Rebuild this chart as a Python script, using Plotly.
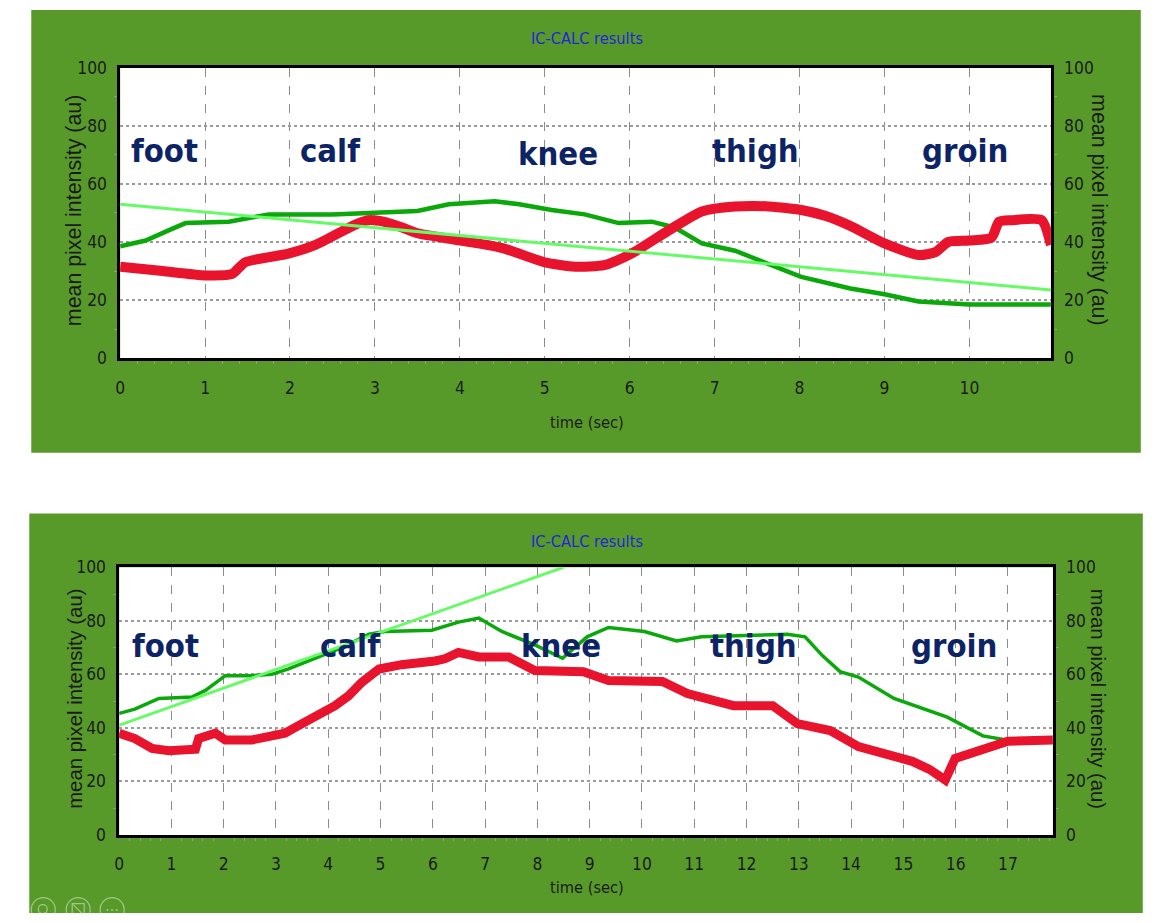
import plotly.graph_objects as go

# ---------------- data ----------------
# Upper recording (about 11 s)
top_time_red = [0, 0.5, 1.0, 1.32, 1.47, 1.98, 2.3, 2.77, 2.92, 3.1, 3.32, 3.5, 3.9, 4.49,
                5.0, 5.36, 5.7, 6.02, 6.46, 6.85, 7.24, 7.6, 8.02, 8.3, 8.6, 9.0, 9.4,
                9.6, 9.75, 10.0, 10.26, 10.35, 10.5, 10.85, 10.96]
top_red = [31.5, 30, 28.5, 29, 33, 36, 39, 46, 47.5, 47, 45, 43, 41, 38,
           33, 31.5, 32, 36, 44, 50.5, 52.2, 52.3, 51, 49, 45.5, 39.5, 35.5,
           36.5, 40, 40.5, 41.5, 47, 47.5, 47.5, 39]

top_time_green = [0, 0.3, 0.57, 0.77, 1.28, 1.75, 2.5, 3.0, 3.5, 3.87, 4.1, 4.41, 4.7,
                  5.08, 5.47, 5.87, 6.26, 6.53, 6.85, 7.24, 7.63, 8.02, 8.6, 9.0, 9.4,
                  10.0, 10.96]
top_green = [38.5, 40.5, 44, 46.5, 47, 49.5, 49.5, 50, 50.7, 53, 53.5, 54, 53,
             51, 49.5, 46.5, 47, 45, 39.5, 37, 32.5, 28, 24, 22, 19.5,
             18.5, 18.5]

top_time_trend = [0, 10.96]
top_trend = [53, 23.5]

top_xmax = 10.96
top_ticks = list(range(0, 11))

# Lower recording (about 18 s)
bot_time_red = [0, 0.3, 0.63, 0.95, 1.46, 1.52, 1.84, 2.03, 2.54, 3.17, 3.5, 3.82, 4.13,
                4.39, 4.64, 4.97, 5.4, 6.04, 6.23, 6.49, 6.88, 7.45, 7.95, 8.88, 9.36,
                10.39, 10.87, 11.75, 12.5, 12.97, 13.6, 14.14, 14.48, 15.17, 15.5,
                15.8, 15.99, 16.39, 17.0, 17.86]
bot_red = [38, 36, 32.3, 31.5, 32, 36, 38, 35.5, 35.5, 38, 41.6, 44.6, 48.3,
           52, 57, 62, 63.6, 65, 65.8, 68.2, 66.5, 66.5, 61.4, 61, 57.7,
           57.3, 52.8, 48.3, 48.3, 41.6, 39, 33, 31, 27.5, 24.5,
           20.5, 28.6, 31, 35, 35.5]

bot_time_green = [0, 0.3, 0.76, 1.39, 1.65, 2.03, 2.54, 2.92, 3.24, 3.82, 4.26, 4.78,
                  5.08, 5.98, 6.49, 6.88, 7.32, 7.95, 8.48, 8.95, 9.36, 10.05, 10.66,
                  11.14, 12.78, 13.12, 13.45, 13.79, 14.14, 14.82, 15.84, 16.52, 17.0]
bot_green = [45.4, 47, 51, 51.5, 54, 59.5, 59.5, 60, 62, 66.5, 70, 75,
             76, 76.5, 79.5, 81, 76, 71, 66, 74, 77.5, 76, 72.5,
             74, 75, 74, 67, 61, 59, 51, 44, 37, 35.4]

bot_time_trend = [0, 8.5]
bot_trend = [41, 100]

bot_xmax = 17.86
bot_ticks = list(range(0, 18))

y_ticks = [0, 20, 40, 60, 80, 100]

# region labels (time, value)
regions = ["foot", "calf", "knee", "thigh", "groin"]
top_region_t = [0.52, 2.47, 5.15, 7.48, 9.95]
top_region_v = [71.2, 71.2, 70.2, 71.2, 71.2]
bot_region_t = [0.88, 4.41, 8.46, 12.13, 15.97]
bot_region_v = [70.6, 70.6, 70.6, 70.6, 70.6]

title_text = "IC-CALC results"
x_title = "time (sec)"
y_title = "mean pixel intensity (au)"

# ---------------- styling ----------------
W, H = 1157, 923
PANEL = "#589a2a"
RED = "#e8132c"
DARK_GREEN = "#0aa80a"
LIGHT_GREEN = "#66fb66"
NAVY = "#0c2466"
NARROW = "Liberation Sans Narrow, DejaVu Sans Condensed, Arial Narrow, sans-serif"
SANS = "Liberation Sans, Arial, sans-serif"

# The page hosting the figure shifts and slightly shrinks it; positions below are
# given in window pixels and converted back to figure-paper fractions.
PAGE_DX, PAGE_SX = 2.7, 0.997
PAGE_DY, PAGE_SY = 8.1, 0.983
FS = 1 / PAGE_SY


def px_x(p):
    return ((p - PAGE_DX) / PAGE_SX) / W


def px_y(p):
    return 1 - ((p - PAGE_DY) / PAGE_SY) / H


def clamp(v):
    return min(1.0, max(0.0, v))


fig = go.Figure()

# upper panel traces
fig.add_trace(go.Scatter(x=top_time_trend, y=top_trend, mode="lines", xaxis="x", yaxis="y3",
                         line=dict(color=LIGHT_GREEN, width=3), hoverinfo="skip"))
fig.add_trace(go.Scatter(x=top_time_green, y=top_green, mode="lines", xaxis="x", yaxis="y",
                         line=dict(color=DARK_GREEN, width=4.5), hoverinfo="skip"))
fig.add_trace(go.Scatter(x=top_time_red, y=top_red, mode="lines", xaxis="x", yaxis="y",
                         line=dict(color=RED, width=10, shape="spline", smoothing=0.6),
                         hoverinfo="skip"))

# lower panel traces
fig.add_trace(go.Scatter(x=bot_time_trend, y=bot_trend, mode="lines", xaxis="x2", yaxis="y4",
                         line=dict(color=LIGHT_GREEN, width=3), hoverinfo="skip"))
fig.add_trace(go.Scatter(x=bot_time_green, y=bot_green, mode="lines", xaxis="x2", yaxis="y2",
                         line=dict(color=DARK_GREEN, width=3.5), hoverinfo="skip"))
fig.add_trace(go.Scatter(x=bot_time_red, y=bot_red, mode="lines", xaxis="x2", yaxis="y2",
                         line=dict(color=RED, width=9), hoverinfo="skip"))

top_dom_x = [px_x(118), px_x(1050)]
top_dom_y = [px_y(358), px_y(66)]
bot_dom_x = [px_x(117), px_x(1052)]
bot_dom_y = [px_y(837), px_y(568)]

tick_font = dict(family=NARROW, size=17 * FS, color="#1a1a1a")


def xaxis_cfg(domain, xmax, ticks, anchor):
    return dict(
        domain=domain, range=[0, xmax], anchor=anchor,
        tickvals=ticks, ticktext=[str(t) for t in ticks],
        tickfont=tick_font, ticks="outside", ticklen=4, tickcolor="#777777",
        ticklabelstandoff=8,
        showgrid=True, gridcolor="#8c8c8c", griddash="dash", gridwidth=1,
        showline=True, linecolor="black", linewidth=2.5, mirror=True,
        zeroline=False, fixedrange=True,
        minor=dict(dtick=0.2, ticks="outside", ticklen=3, tickcolor="#9a9a9a", showgrid=False),
    )


def yaxis_cfg(domain, anchor, side="left", overlaying=None):
    cfg = dict(
        domain=domain, range=[0, 100], anchor=anchor, side=side,
        tickvals=y_ticks, tickfont=tick_font, ticks="outside", ticklen=4,
        tickcolor="#777777", ticklabelstandoff=3,
        showgrid=(overlaying is None), gridcolor="#9a9a9a", griddash="dot", gridwidth=1.5,
        showline=True, linecolor="black", linewidth=2.5, mirror=(overlaying is None),
        zeroline=False, fixedrange=True,
        minor=dict(dtick=10, ticks="outside", ticklen=3, tickcolor="#9a9a9a", showgrid=False),
    )
    if overlaying:
        cfg["overlaying"] = overlaying
    return cfg


shapes = []
# green panels
for x0, y0, x1, y1 in [(29, 5, 1140, 453), (27, 514, 1142, 921)]:
    shapes.append(dict(type="rect", xref="paper", yref="paper",
                       x0=clamp(px_x(x0)), x1=clamp(px_x(x1)),
                       y0=clamp(px_y(y1)), y1=clamp(px_y(y0)),
                       fillcolor=PANEL, line=dict(width=0), layer="below"))
# white plotting areas
for dx, dy in [(top_dom_x, top_dom_y), (bot_dom_x, bot_dom_y)]:
    shapes.append(dict(type="rect", xref="paper", yref="paper",
                       x0=dx[0], x1=dx[1], y0=dy[0], y1=dy[1],
                       fillcolor="white", line=dict(width=0), layer="below"))

# faint viewer controls in the lower-left corner
icon_line = "rgba(255,255,255,0.45)"
for cx in [41, 76, 110]:
    shapes.append(dict(type="circle", xref="paper", yref="paper",
                       x0=px_x(cx - 12), x1=px_x(cx + 12), y0=px_y(924), y1=px_y(900),
                       line=dict(color=icon_line, width=1.2)))
shapes.append(dict(type="circle", xref="paper", yref="paper",
                   x0=px_x(36), x1=px_x(45), y0=px_y(916), y1=px_y(907),
                   line=dict(color=icon_line, width=1.2)))
shapes.append(dict(type="line", xref="paper", yref="paper",
                   x0=px_x(44), x1=px_x(48), y0=px_y(915), y1=px_y(920),
                   line=dict(color=icon_line, width=1.2)))
shapes.append(dict(type="rect", xref="paper", yref="paper",
                   x0=px_x(70), x1=px_x(82), y0=px_y(918), y1=px_y(906),
                   line=dict(color=icon_line, width=1.2)))
shapes.append(dict(type="line", xref="paper", yref="paper",
                   x0=px_x(71), x1=px_x(81), y0=px_y(907), y1=px_y(917),
                   line=dict(color=icon_line, width=1.2)))


def paper_note(text, x, y, font, angle=0):
    return dict(text=text, xref="paper", yref="paper", x=px_x(x), y=px_y(y),
                xanchor="center", yanchor="middle", showarrow=False,
                textangle=angle, font=font)


annotations = []
for ty in [37, 542]:
    annotations.append(paper_note(title_text, 585, ty,
                                  dict(family=NARROW, size=16 * FS, color="#2424d8")))
for ty in [423, 890]:
    annotations.append(paper_note(x_title, 585, ty,
                                  dict(family=NARROW, size=16 * FS, color="#1a1a1a")))
# axis titles on both sides of each panel (centre y, font size)
for cy, size in [(209, 21), (700, 20)]:
    annotations.append(paper_note(y_title, 72, cy,
                                  dict(family=SANS, size=size * FS, color="#1a1a1a"), angle=-90))
    annotations.append(paper_note(y_title, 1098, cy,
                                  dict(family=SANS, size=size * FS, color="#1a1a1a"), angle=90))
annotations.append(paper_note("⋯", 110, 912, dict(family=SANS, size=14, color=icon_line)))

label_font = dict(family=NARROW, size=32 * FS, color=NAVY, weight="bold")
for name, t, v in zip(regions, top_region_t, top_region_v):
    annotations.append(dict(text=f"<b>{name}</b>", xref="x", yref="y", x=t, y=v,
                            xanchor="center", yanchor="middle",
                            showarrow=False, font=label_font))
for name, t, v in zip(regions, bot_region_t, bot_region_v):
    annotations.append(dict(text=f"<b>{name}</b>", xref="x2", yref="y2", x=t, y=v,
                            xanchor="center", yanchor="middle",
                            showarrow=False, font=label_font))

fig.update_layout(
    width=W, height=H, autosize=False,
    margin=dict(l=0, r=0, t=0, b=0),
    paper_bgcolor="white", plot_bgcolor="rgba(0,0,0,0)",
    showlegend=False,
    xaxis=xaxis_cfg(top_dom_x, top_xmax, top_ticks, "y"),
    xaxis2=xaxis_cfg(bot_dom_x, bot_xmax, bot_ticks, "y2"),
    yaxis=yaxis_cfg(top_dom_y, "x"),
    yaxis2=yaxis_cfg(bot_dom_y, "x2"),
    yaxis3=yaxis_cfg(top_dom_y, "x", side="right", overlaying="y"),
    yaxis4=yaxis_cfg(bot_dom_y, "x2", side="right", overlaying="y2"),
    shapes=shapes,
    annotations=annotations,
)

fig.write_html("out.html", config={"displayModeBar": False})
